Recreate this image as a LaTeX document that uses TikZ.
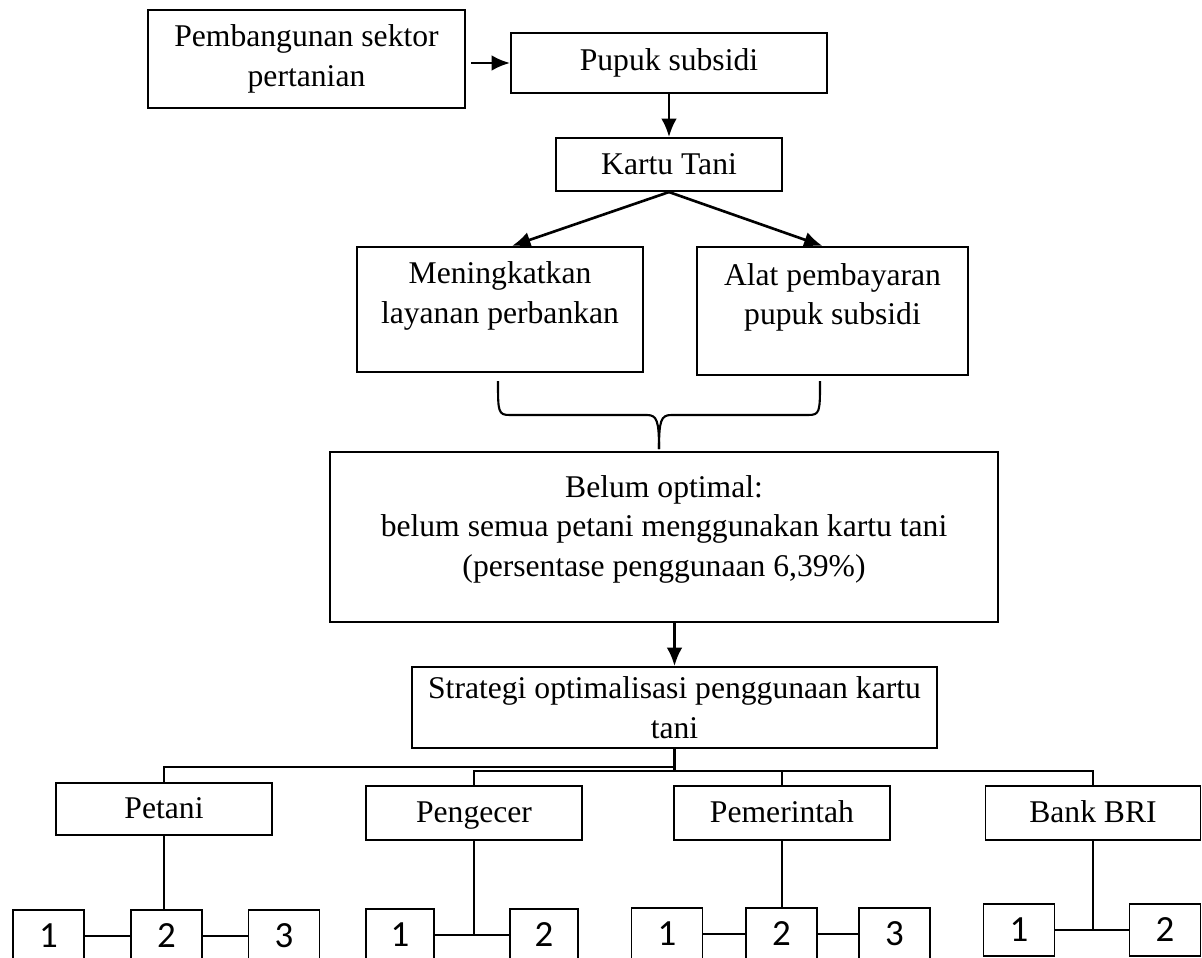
\documentclass[tikz,border=0pt]{standalone}
\usepackage{fontspec}
\setmainfont{Liberation Serif}
\newfontfamily\numfont{Carlito}
\usetikzlibrary{calc,arrows.meta}

% one pixel of the layout
\newcommand{\unitpx}{0.01333cm}

\tikzset{
  box/.style={draw, line width=0.8pt, align=center, inner sep=2pt,
    font=\fontsize{12}{15}\selectfont},
  actor/.style={box, line width=0.6pt, minimum width=216*\unitpx, minimum height=54*\unitpx,
    text height=8.5pt, text depth=1pt},
  numbox/.style={draw, line width=0.6pt, minimum width=71*\unitpx,
    minimum height=52*\unitpx, inner sep=0pt, font=\numfont\fontsize{14}{16}\selectfont},
  arr/.style={-{Latex[length=7pt,width=6pt]}, line width=1pt},
  link/.style={line width=0.5pt},
}

\begin{document}
\begin{tikzpicture}[x=\unitpx,y=-\unitpx]
    % frame of the page
    \useasboundingbox (0,0) rectangle (1202,957);
    \clip (0,0) rectangle (1202,957);

    % top chain
    \node[box, minimum width=317*\unitpx, minimum height=98*\unitpx] (pemb) at (306.5,59) {Pembangunan sektor\\pertanian};
    \node[box, minimum width=316*\unitpx, minimum height=60*\unitpx] (pupuk) at (669,63) {Pupuk subsidi};
    \node[box, minimum width=226*\unitpx, minimum height=53*\unitpx] (kartu) at (669,164.5) {Kartu Tani};
    \draw[arr] ($(pemb.east |- pupuk.west)+(5,0)$) -- (pupuk.west);
    \draw[arr] (pupuk.south) -- (kartu.north);

    % two functions of the card
    \node[box, minimum width=286*\unitpx, minimum height=125*\unitpx, text depth=13pt] (tingkat) at (500,309.5) {Meningkatkan\\layanan perbankan};
    \node[box, minimum width=271*\unitpx, minimum height=128*\unitpx, text depth=13pt] (alat) at (832.5,311) {Alat pembayaran\\pupuk subsidi};
    \draw[arr] (kartu.south) -- ($(tingkat.north)+(12,0)$);
    \draw[arr] (kartu.south) -- ($(alat.north)+(-10,0)$);

    % brace under both boxes
    \draw[line width=0.8pt] (498,381) .. controls (498,412) and (498,415) .. (510,415) -- (647,415)
        .. controls (657,415) and (659,421) .. (659,449);
    \draw[line width=0.8pt] (820,381) .. controls (820,412) and (820,415) .. (808,415) -- (671,415)
        .. controls (661,415) and (659,421) .. (659,449);

    % result and strategy
    \node[box, minimum width=668*\unitpx, minimum height=170*\unitpx, text depth=8.5pt] (belum) at (664,537)
        {Belum optimal:\\belum semua petani menggunakan kartu tani\\(persentase penggunaan 6,39\%)};
    \node[box, minimum width=525*\unitpx, minimum height=81*\unitpx] (strategi) at (674.5,707.5)
        {Strategi optimalisasi penggunaan kartu\\tani};
    \draw[arr] (belum.south -| strategi.north) -- (strategi.north);

    % actors
    \node[actor, minimum height=52*\unitpx] (petani) at (164,809) {Petani};
    \node[actor] (pengecer) at (474,813) {Pengecer};
    \node[actor] (pemerintah) at (782,813) {Pemerintah};
    \node[actor, minimum width=215*\unitpx] (bank) at (1093,813) {Bank BRI};

    % split lines below the strategy box
    \coordinate (split) at ($(strategi.south)+(0,22)$);
    \draw[line width=0.8pt] (strategi.south) -- (split);
    \draw[link] ($(strategi.south)+(0,18)$) -| (petani.north);
    \draw[link] (pengecer.north) |- (split -| bank.north) -- (bank.north);
    \draw[link] (pemerintah.north) -- (pemerintah.north |- split);

    % numbered boxes per actor
    \foreach \n/\x in {1/48.5, 2/166.5, 3/284} \node[numbox] (pt\n) at (\x,936) {\n};
    \foreach \n/\x in {1/400, 2/544} \node[numbox, minimum width=68*\unitpx] (pg\n) at (\x,935) {\n};
    \foreach \n/\x in {1/667, 2/781.5, 3/894.5} \node[numbox] (pm\n) at (\x,934) {\n};
    \foreach \n/\x in {1/1019, 2/1165} \node[numbox] (bk\n) at (\x,930) {\n};

    \draw[link] (pt1) -- (pt2) (pt2) -- (pt3);
    \draw[link] (petani.south) -- (petani.south |- pt2.north);
    \draw[link] (pg1) -- (pg2);
    \draw[link] (pengecer.south) -- (pengecer.south |- pg1.east);
    \draw[link] (pm1) -- (pm2) (pm2) -- (pm3);
    \draw[link] (pemerintah.south) -- (pemerintah.south |- pm2.north);
    \draw[link] (bk1) -- (bk2);
    \draw[link] (bank.south) -- (bank.south |- bk1.east);
\end{tikzpicture}
\end{document}
